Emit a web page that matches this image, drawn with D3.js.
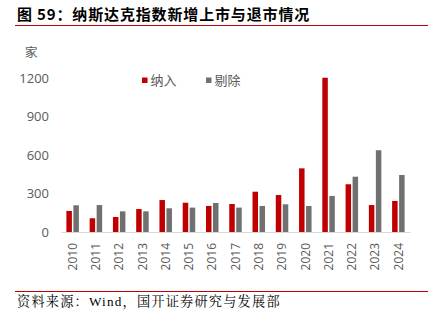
<!DOCTYPE html>
<html><head><meta charset="utf-8">
<script src="https://cdn.jsdelivr.net/npm/d3@7"></script>
<style>body{margin:0;background:#fff;} svg{display:block;}</style>
</head><body>
<svg id="c" width="435" height="321"></svg>
<script>
const years = ["2010","2011","2012","2013","2014","2015","2016","2017","2018","2019","2020","2021","2022","2023","2024"];
const listed = [164,107,117,179,249,228,203,218,314,288,496,1202,372,210,242];
const delisted = [208,210,161,161,185,190,226,190,203,216,203,281,431,637,444];
const seriesNames = ["纳入","剔除"];
const yTicks = [0,300,600,900,1200];

const svg = d3.select("#c");
const cjk = "'Noto Sans CJK SC','Noto Sans',sans-serif";
const serif = "'Liberation Serif','Noto Serif CJK SC','Noto Sans CJK SC',serif";

// title
svg.append("text").attr("x",17).attr("y",20).attr("font-family",cjk).attr("font-weight","bold")
  .attr("font-size",15).attr("letter-spacing",0.85).attr("fill","#000").text("图 59：纳斯达克指数新增上市与退市情况");
svg.append("line").attr("x1",15).attr("x2",428).attr("y1",25.5).attr("y2",25.5).attr("stroke","#c00000").attr("stroke-width",1);
svg.append("line").attr("x1",15).attr("x2",428).attr("y1",291.5).attr("y2",291.5).attr("stroke","#c00000").attr("stroke-width",1);
svg.append("text").attr("x",17).attr("y",306).attr("font-family",serif).attr("font-size",13.2).attr("letter-spacing",1.2)
  .attr("fill","#000").text("资料来源：Wind，国开证券研究与发展部");

const x = d3.scaleBand().domain(years).range([61,410]).paddingInner(0).paddingOuter(0);
const y = d3.scaleLinear().domain([0,1200]).range([232,78]);

// y axis labels
const yAx = svg.append("g").attr("transform","translate(49,0)")
  .call(d3.axisLeft(y).tickValues(yTicks).tickSize(0).tickPadding(0).tickFormat(d3.format("d")));
yAx.select(".domain").remove();
yAx.selectAll("text").attr("font-family","'Open Sans','Noto Sans',sans-serif").attr("font-size",13).attr("fill","#595959");

svg.append("text").attr("x",25).attr("y",57).attr("font-family",cjk).attr("font-size",12.5).attr("fill","#595959").text("家");

// bars
const bw = 5.5, gap = 1.5;
const g = svg.append("g");
g.selectAll("rect.a").data(years).enter().append("rect").attr("class","a")
  .attr("x",d=>x(d)+x.bandwidth()/2-gap/2-bw).attr("width",bw)
  .attr("y",(d,i)=>y(listed[i])).attr("height",(d,i)=>y(0)-y(listed[i])).attr("fill","#c00000");
g.selectAll("rect.b").data(years).enter().append("rect").attr("class","b")
  .attr("x",d=>x(d)+x.bandwidth()/2+gap/2).attr("width",bw)
  .attr("y",(d,i)=>y(delisted[i])).attr("height",(d,i)=>y(0)-y(delisted[i])).attr("fill","#707070");

// x axis
const xAx = svg.append("g").attr("transform","translate(0,232)")
  .call(d3.axisBottom(x).tickSize(0).tickPadding(0));
xAx.select(".domain").attr("stroke","#d9d9d9");
xAx.selectAll("text").attr("font-family","'Open Sans','Noto Sans',sans-serif").attr("font-size",12).attr("fill","#595959")
  .attr("transform","rotate(-90)").attr("text-anchor","end").attr("dy","0.35em").attr("x",-11).attr("y",0);

// legend
const lg = [{n:seriesNames[0],c:"#c00000",x:142},{n:seriesNames[1],c:"#707070",x:206}];
lg.forEach(l=>{
  svg.append("rect").attr("x",l.x).attr("y",77.5).attr("width",5.5).attr("height",5.5).attr("fill",l.c);
  svg.append("text").attr("x",l.x+8.5).attr("y",85).attr("font-family",cjk).attr("font-size",13).attr("fill","#595959").text(l.n);
});
</script>
</body></html>
